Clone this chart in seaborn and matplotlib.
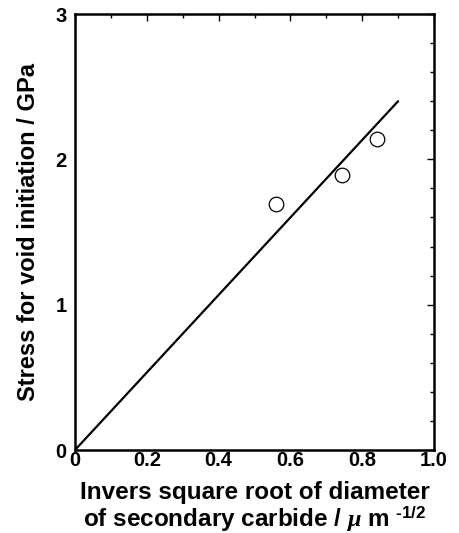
import matplotlib
matplotlib.use("Agg")
import matplotlib.pyplot as plt
import seaborn as sns
import pandas as pd
from matplotlib.ticker import MultipleLocator

# Data
x_points = [0.56, 0.745, 0.84]
y_points = [1.69, 1.895, 2.14]
line_x = [0.0, 0.9]
line_y = [0.0, 2.4]
x_ticks = [0, 0.2, 0.4, 0.6, 0.8, 1.0]
x_tick_labels = ["0", "0.2", "0.4", "0.6", "0.8", "1.0"]
y_ticks = [0, 1, 2, 3]
y_tick_labels = ["0", "1", "2", "3"]

sns.set_style("white")
plt.rcParams["font.family"] = ["Liberation Sans", "DejaVu Sans"]
plt.rcParams["font.weight"] = "bold"
plt.rcParams["text.color"] = "black"
plt.rcParams["axes.labelcolor"] = "black"
plt.rcParams["xtick.color"] = "black"
plt.rcParams["ytick.color"] = "black"
plt.rcParams["mathtext.fontset"] = "custom"
plt.rcParams["mathtext.rm"] = "Liberation Sans:bold"
plt.rcParams["mathtext.it"] = "Liberation Serif:italic"
plt.rcParams["mathtext.bf"] = "Liberation Sans:bold"

fig = plt.figure(figsize=(4.6, 5.33), dpi=100)
ax = fig.add_axes([75 / 460, 1 - 450 / 533, (434 - 75) / 460, (450 - 14) / 533])

pts = pd.DataFrame({"x": x_points, "y": y_points})
ln = pd.DataFrame({"x": line_x, "y": line_y})

sns.lineplot(data=ln, x="x", y="y", ax=ax, color="black", linewidth=1.6)
sns.scatterplot(data=pts, x="x", y="y", ax=ax, s=110, facecolor="white",
                edgecolor="black", linewidth=0.9, zorder=3)

ax.set_xlim(0, 1.0)
ax.set_ylim(0, 3)
ax.set_xticks(x_ticks)
ax.set_xticklabels(x_tick_labels)
ax.set_yticks(y_ticks)
ax.set_yticklabels(y_tick_labels)
ax.xaxis.set_minor_locator(MultipleLocator(0.1))
ax.yaxis.set_minor_locator(MultipleLocator(0.2))
ax.tick_params(which="both", direction="in", top=True, right=True,
               labelsize=14.5, width=1.0, colors="black")
ax.tick_params(which="major", length=5)
ax.tick_params(axis="y", which="major", pad=6)
ax.tick_params(axis="x", which="major", pad=1)
ax.tick_params(which="minor", length=3)
for lbl in ax.get_xticklabels() + ax.get_yticklabels():
    lbl.set_fontweight("bold")
for s in ax.spines.values():
    s.set_linewidth(1.8)
    s.set_color("black")

ax.set_xlabel("Invers square root of diameter\nof secondary carbide / $\\mu$ m $^{\\text{-1/2}}$",
              fontsize=17.5, fontweight="bold", linespacing=1.0, labelpad=8,
              color="black")
ax.set_ylabel("Stress for void initiation / GPa", fontsize=17,
              fontweight="bold", labelpad=11, color="black")

fig.savefig("out.png", dpi=100)
